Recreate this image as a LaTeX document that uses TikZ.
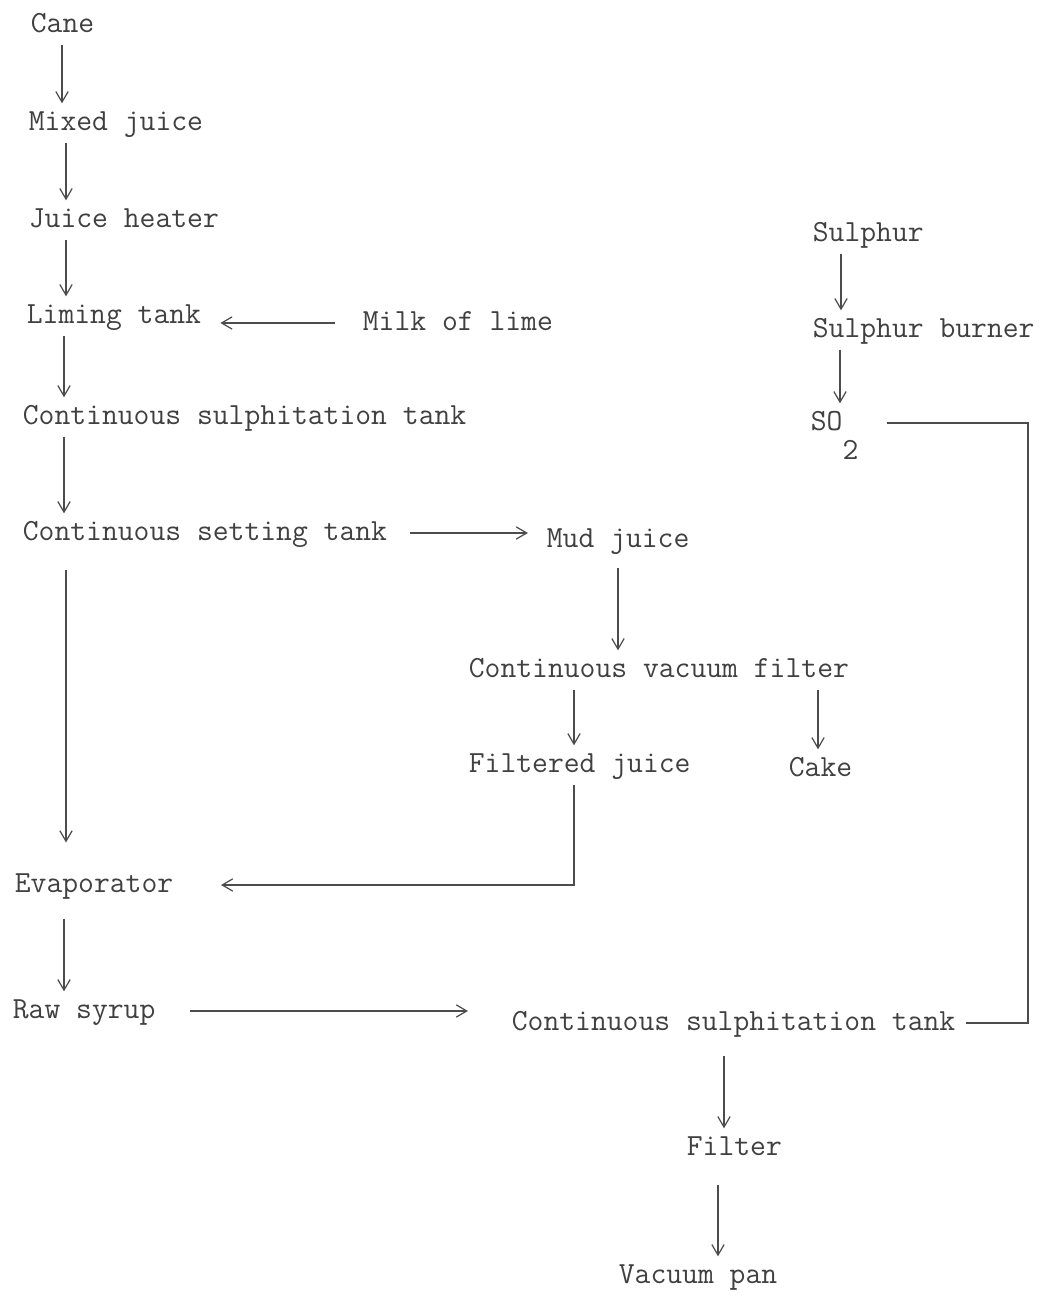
\documentclass[tikz,border=0pt]{standalone}
\usepackage{tikz}
\usetikzlibrary{arrows.meta}

\begin{document}
\begin{tikzpicture}[x=0.02cm, y=-0.02cm,
	every node/.style={font=\fontsize{17.5}{20}\selectfont\ttfamily, text=black!75, anchor=base west, text height=11pt, text depth=3pt, inner xsep=6pt, inner ysep=4pt},
	flow/.style={-{Straight Barb[length=6pt,width=7pt]}, draw=black!70, line width=0.7pt},
	feed/.style={draw=black!70, line width=0.7pt}]
	\useasboundingbox (0,0) rectangle (1043,1296);
	% main line
	\node (cane)      at (20,32)    {Cane};
	\node (mixed)     at (18,130)   {Mixed juice};
	\node (heater)    at (18,227)   {Juice heater};
	\node (liming)    at (16,323)   {Liming tank};
	\node (lime)      at (352,330)  {Milk of lime};
	\node (sulph)     at (12,424)   {Continuous sulphitation tank};
	\node (settling)  at (12,540)   {Continuous setting tank};
	\node (mud)       at (536,547)  {Mud juice};
	\node (vacfilter) at (458,677)  {Continuous vacuum filter};
	\node (filtered)  at (458,772)  {Filtered juice};
	\node (cake)      at (778,776)  {Cake};
	\node (evap)      at (4,892)    {Evaporator};
	\node (rawsyrup)  at (2,1018)   {Raw syrup};
	\node (sulphb)    at (501,1030) {Continuous sulphitation tank};
	\node (filter)    at (676,1155) {Filter};
	\node (vacpan)    at (608,1283) {Vacuum pan};
	% sulphur side
	\node (sulphur)   at (802,241)  {Sulphur};
	\node (burner)    at (802,337)  {Sulphur burner};
	\node (so2)       at (800,430)  {SO\raisebox{-0.95em}{2}};
	\coordinate (bend) at (1028,421);

	\draw[flow] (cane.south -| 62,0) -- (mixed.north -| 62,0);
	\draw[flow] (mixed.south -| 66,0) -- (heater.north -| 66,0);
	\draw[flow] (heater.south -| 66,0) -- (liming.north -| 66,0);
	\draw[flow, shorten <=9.7pt, shorten >=4.8pt] (lime.west) -- (lime.west -| liming.east);
	\draw[flow] (liming.south -| 64,0) -- (sulph.north -| 64,0);
	\draw[flow] (sulph.south -| 64,0) -- (settling.north -| 64,0);
	\draw[flow, shorten <=6.8pt, shorten >=4.6pt] (settling.east) -- (settling.east -| mud.west);
	\draw[flow, shorten <=10pt, shorten >=13pt] (settling.south -| 66,0) -- (evap.north -| 66,0);
	\draw[flow, shorten <=5pt] (mud.south -| 618,0) -- (vacfilter.north -| 618,0);
	\draw[flow] (vacfilter.south -| 574,0) -- (filtered.north -| 574,0);
	\draw[flow] (vacfilter.south -| 818,0) -- (cake.north -| 818,0);
	\draw[flow, shorten >=21pt] (filtered.south -| 574,0) |- (evap.east);
	\draw[flow, shorten <=8pt] (evap.south -| 64,0) -- (rawsyrup.north -| 64,0);
	\draw[flow, shorten <=13.4pt, shorten >=18.8pt] (rawsyrup.east) -- (rawsyrup.east -| sulphb.west);
	\draw[flow, shorten <=7.4pt] (sulphb.south -| 724,0) -- (filter.north -| 724,0);
	\draw[flow, shorten <=10pt] (filter.south -| 718,0) -- (vacpan.north -| 718,0);
	\draw[flow] (sulphur.south -| 841,0) -- (burner.north -| 841,0);
	\draw[flow] (burner.south -| 840,0) -- (so2.north -| 840,0);
	\draw[feed, shorten <=10pt] (so2.east) -- (so2.east -| bend) |- (sulphb.east);
\end{tikzpicture}
\end{document}
